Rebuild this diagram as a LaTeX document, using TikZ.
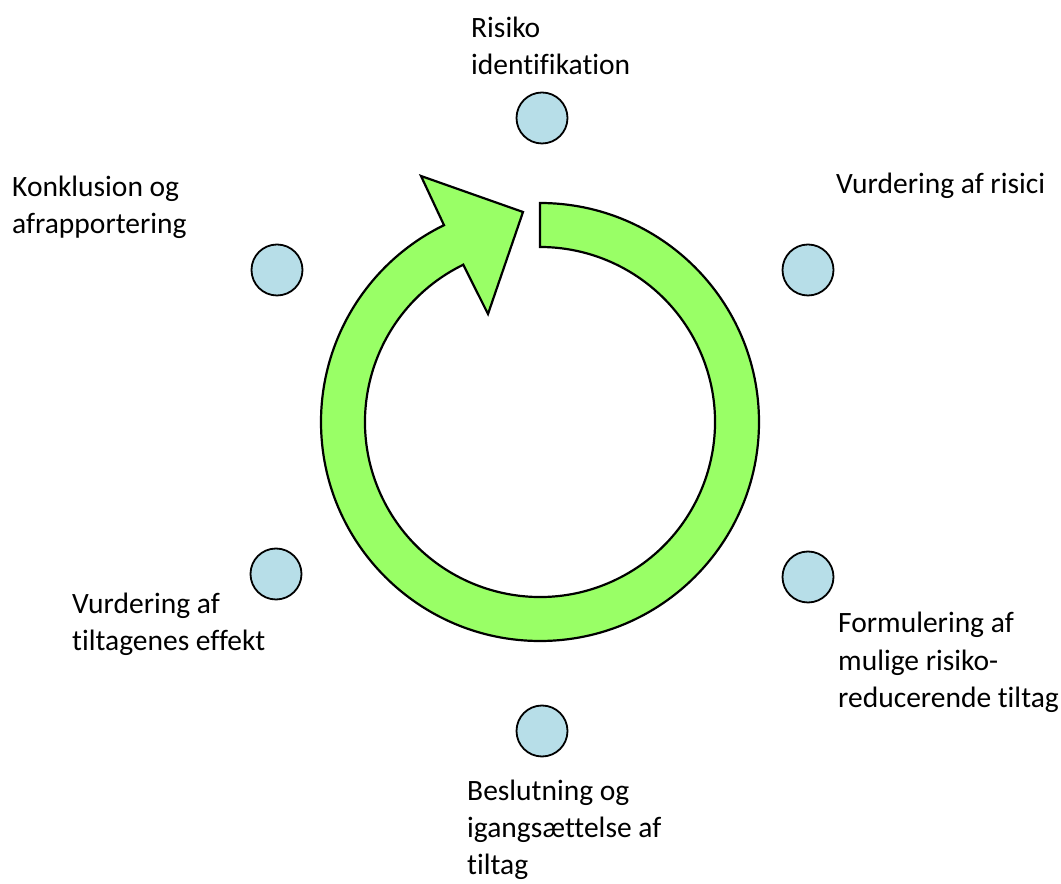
\documentclass[tikz,border=0pt]{standalone}
\usepackage{fontspec}
\setmainfont{Carlito}[Ligatures=NoCommon]
\usetikzlibrary{calc}
\definecolor{ringgreen}{RGB}{153,255,102}
\definecolor{dotblue}{RGB}{183,222,232}
\newcommand\lblfont{\fontsize{29.5}{37.5}\selectfont}
\begin{document}
\begin{tikzpicture}[x=1pt,y=1pt,
  dot/.style={circle, draw=black, line width=1.8pt, fill=dotblue, minimum size=51pt, inner sep=0pt},
  lbl/.style={anchor=base west, align=left, inner sep=0pt, font=\lblfont},
  ring/.style={draw=black, line width=2.2pt, fill=ringgreen, line join=miter}]
\useasboundingbox (0,0) rectangle (1061,884);
% ring arrow
\coordinate (C) at (540,462);
\coordinate (wingout) at (421,708);
\coordinate (tip) at (523,672);
\coordinate (wingin) at (488,570);
\draw[ring] ($(C)+(90:219)$) arc[start angle=90, end angle=-244, radius=219]
  -- (wingout) -- (tip) -- (wingin) -- ($(C)+(116:175)$)
  arc[start angle=116, end angle=450, radius=175] -- cycle;
% dots
\node[dot] (d1) at (542,766) {};
\node[dot] (d2) at (808,614) {};
\node[dot] (d3) at (808,307) {};
\node[dot] (d4) at (542,153) {};
\node[dot] (d5) at (276,310) {};
\node[dot] (d6) at (277,614) {};
% labels (anchor = baseline of last line)
\node[lbl] (t1) at (471,809) {Risiko\\identifikation};
\node[lbl] (t2) at (836,690) {Vurdering af risici};
\node[lbl] (t3) at (838,176) {Formulering af\\mulige risiko-\\reducerende tiltag};
\node[lbl] (t4) at (467,9) {Beslutning og\\igangsættelse af\\tiltag};
\node[lbl] (t5) at (72,233) {Vurdering af\\tiltagenes effekt};
\node[lbl] (t6) at (12,650) {Konklusion og\\afrapportering};
\end{tikzpicture}
\end{document}
